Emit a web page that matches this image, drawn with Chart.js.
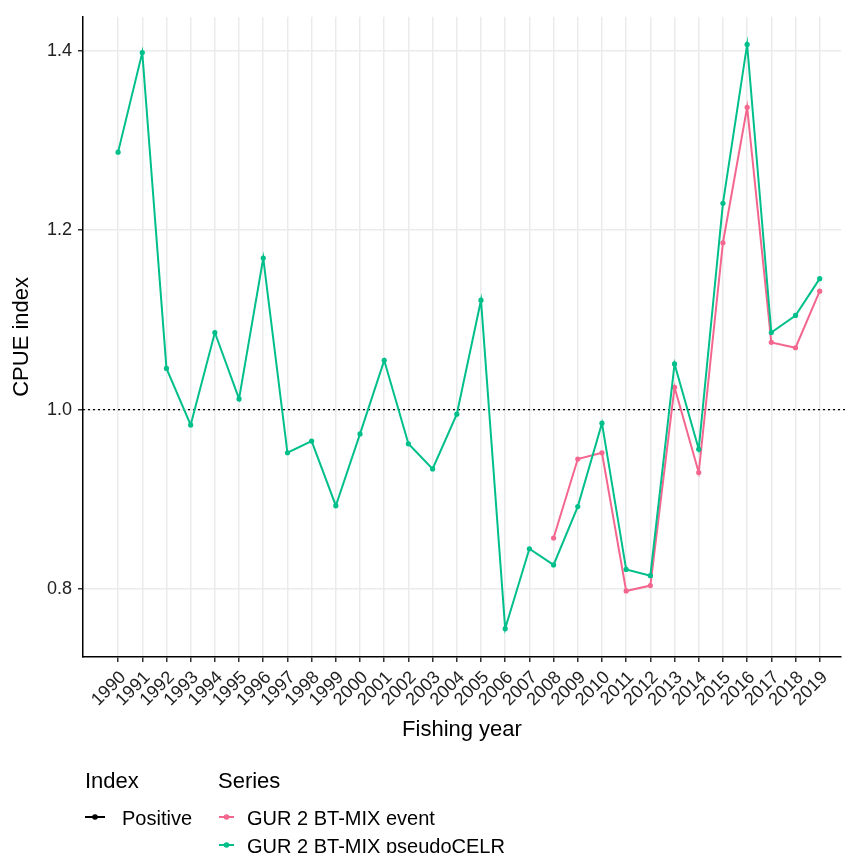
<!DOCTYPE html>
<html>
<head>
<meta charset="utf-8">
<script src="https://cdn.jsdelivr.net/npm/chart.js@4"></script>
<style>
  body { margin: 0; background: #fff; }
</style>
</head>
<body>
<canvas id="myChart" width="845" height="853"></canvas>
<script>
// data
const years = [1990, 1991, 1992, 1993, 1994, 1995, 1996, 1997, 1998, 1999,
  2000, 2001, 2002, 2003, 2004, 2005, 2006, 2007, 2008, 2009,
  2010, 2011, 2012, 2013, 2014, 2015, 2016, 2017, 2018, 2019];

const pseudoCELR = [1.287, 1.398, 1.046, 0.983, 1.086, 1.012, 1.169, 0.952, 0.965, 0.893,
  0.973, 1.055, 0.962, 0.934, 0.995, 1.122, 0.756, 0.845, 0.827, 0.892,
  0.985, 0.822, 0.815, 1.051, 0.956, 1.230, 1.407, 1.086, 1.105, 1.146];

const event = [null, null, null, null, null, null, null, null, null, null,
  null, null, null, null, null, null, null, null, 0.857, 0.945,
  0.952, 0.798, 0.804, 1.025, 0.930, 1.186, 1.337, 1.075, 1.069, 1.132];

const yTicks = [0.8, 1.0, 1.2, 1.4];
const refValue = 1.0;

const seriesNames = ["GUR 2 BT-MIX event", "GUR 2 BT-MIX pseudoCELR"];
const indexNames = ["Positive"];

const pink = "#f3678f";
const green = "#00bf8a";
const FONT = "'Liberation Sans', Arial, sans-serif";

function toPoints(vals) {
    return years.map((yr, i) => ({x: yr, y: vals[i]}));
}

function createDataSet(label, color, vals, order) {
    return {
        label: label,
        data: toPoints(vals),
        borderColor: color,
        backgroundColor: color,
        borderWidth: 2,
        pointRadius: 2.6,
        pointBorderWidth: 0,
        lineTension: 0,
        spanGaps: false,
        order: order
    }
}

let dataSetEvent = createDataSet(seriesNames[0], pink, event, 1);
let dataSetCELR = createDataSet(seriesNames[1], green, pseudoCELR, 0);

// dotted reference line at 1.0
const refLine = {
    id: 'refLine',
    beforeDatasetsDraw(chart) {
        const {ctx, chartArea} = chart;
        const y = chart.scales.y.getPixelForValue(refValue);
        ctx.save();
        ctx.strokeStyle = '#000';
        ctx.lineWidth = 1.2;
        ctx.setLineDash([2, 3]);
        ctx.beginPath();
        ctx.moveTo(chartArea.left, y);
        ctx.lineTo(chart.width, y);
        ctx.stroke();
        ctx.restore();
    }
};

// ggplot-like legend under the plot
const bottomLegend = {
    id: 'bottomLegend',
    afterDraw(chart) {
        const ctx = chart.ctx;
        ctx.save();
        ctx.fillStyle = '#000';
        ctx.textBaseline = 'alphabetic';
        ctx.textAlign = 'left';
        ctx.font = '22px ' + FONT;
        ctx.fillText('Index', 85, 788);
        ctx.fillText('Series', 218, 788);

        function key(x0, x1, y, color) {
            ctx.strokeStyle = color;
            ctx.fillStyle = color;
            ctx.lineWidth = 2;
            ctx.beginPath();
            ctx.moveTo(x0, y);
            ctx.lineTo(x1, y);
            ctx.stroke();
            ctx.beginPath();
            ctx.arc((x0 + x1) / 2, y, 2.8, 0, Math.PI * 2);
            ctx.fill();
        }

        ctx.font = '20px ' + FONT;
        key(85, 105, 817, '#000');
        ctx.fillStyle = '#000';
        ctx.fillText(indexNames[0], 122, 825);

        const colors = [pink, green];
        seriesNames.forEach((name, i) => {
            const y = 817 + i * 28;
            key(219, 234, y, colors[i]);
            ctx.fillStyle = '#000';
            ctx.fillText(name, 247, y + 8);
        });
        ctx.restore();
    }
};

const ctx = document.getElementById('myChart');

let chart1 = new Chart(ctx, {
    type: 'line',
    data: {
        datasets: [dataSetCELR, dataSetEvent]
    },
    options: {
        responsive: false,
        animation: false,
        layout: {padding: {top: 15, right: 0, bottom: 106, left: 0}},
        plugins: {
            legend: {display: false},
            tooltip: {enabled: false}
        },
        scales: {
            x: {
                type: 'linear',
                min: 1988.55,
                max: 2019.88,
                afterBuildTicks: scale => { scale.ticks = years.map(v => ({value: v})); },
                afterFit: scale => { scale.height = 90; },
                grid: {color: '#ebebeb', lineWidth: 1.5, tickColor: '#333', tickLength: 5, tickWidth: 1.5},
                border: {color: '#000', width: 1.5},
                ticks: {
                    autoSkip: false,
                    maxRotation: 45,
                    minRotation: 45,
                    padding: 5,
                    labelOffset: 5,
                    color: '#222',
                    font: {family: FONT, size: 18},
                    callback: v => String(v)
                },
                title: {
                    display: true,
                    text: 'Fishing year',
                    color: '#000',
                    font: {family: FONT, size: 22},
                    padding: {top: 0, bottom: 4}
                }
            },
            y: {
                min: 0.7244,
                max: 1.4378,
                afterBuildTicks: scale => { scale.ticks = yTicks.map(v => ({value: v})); },
                afterFit: scale => { scale.width = 83; },
                grid: {color: '#ebebeb', lineWidth: 1.5, tickColor: '#333', tickLength: 5, tickWidth: 1.5},
                border: {color: '#000', width: 1.5},
                ticks: {
                    padding: 6,
                    color: '#222',
                    font: {family: FONT, size: 18},
                    callback: v => v.toFixed(1)
                },
                title: {
                    display: true,
                    text: 'CPUE index',
                    color: '#000',
                    font: {family: FONT, size: 22},
                    padding: {top: 9, bottom: 0}
                }
            }
        }
    },
    plugins: [refLine, bottomLegend]
});
</script>
</body>
</html>
